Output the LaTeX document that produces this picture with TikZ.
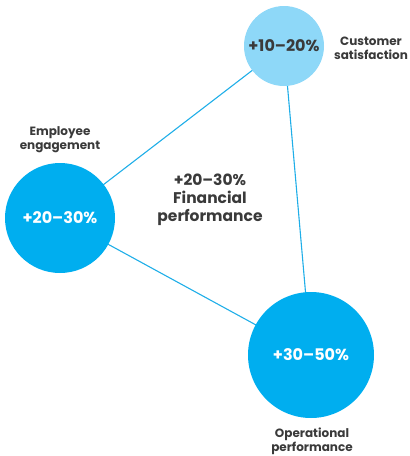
\documentclass[tikz,border=0pt]{standalone}
\usepackage{fontspec}
\setmainfont{Poppins}
\definecolor{lightb}{HTML}{8ED8F8}
\definecolor{midb}{HTML}{00AEEF}
\definecolor{lineb}{HTML}{1FAEE8}
\definecolor{txt}{HTML}{3A3A3A}
\tikzset{
  bubble/.style={circle, inner sep=0pt, font=\fontsize{16}{18}\selectfont\bfseries},
  lab/.style={align=center, text=txt, font=\fontsize{12}{14}\selectfont\bfseries},
  link/.style={draw=lineb, line width=1.1pt}
}
\begin{document}
\begin{tikzpicture}[x=1pt,y=-1pt]
\useasboundingbox (0,0) rectangle (410,456);
\coordinate (tc) at (284,46);
\coordinate (lc) at (60,218);
\coordinate (bc) at (311,355);
\draw[link] (tc) -- (lc);
\draw[link] (lc) -- (bc);
\draw[link] (tc) -- (bc);
\node[bubble, fill=lightb, minimum size=80pt, text=txt] (top) at (tc) {+10–20\%};
\node[bubble, fill=midb, minimum size=110pt, text=white] (left) at (lc) {+20–30\%};
\node[bubble, fill=midb, minimum size=126pt, text=white] (bot) at (bc) {+30–50\%};
\node[lab] (cs) at (371,48) {Customer\\satisfaction};
\node[lab] (ee) at (60,140) {Employee\\engagement};
\node[lab] (op) at (312,441) {Operational\\performance};
\node[align=center, text=txt, font=\fontsize{15.5}{18}\selectfont\bfseries] (fin) at (210,200) {+20–30\%\\Financial\\performance};
\end{tikzpicture}
\end{document}
